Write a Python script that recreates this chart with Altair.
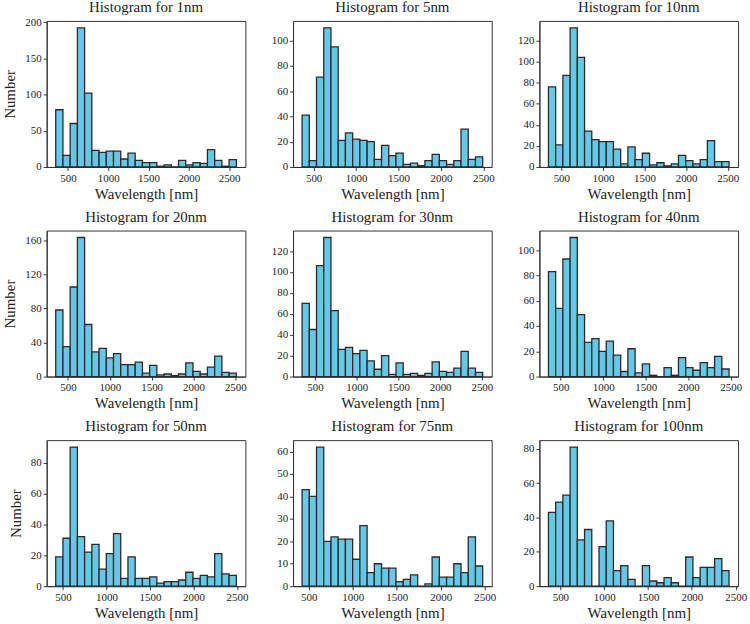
import altair as alt
import numpy as np
import pandas as pd

# Particle-size labels, one histogram per size
sizes = ["1nm", "5nm", "10nm", "20nm", "30nm", "40nm", "50nm", "75nm", "100nm"]

# Wavelength range covered by the 25 bins of each histogram [nm]
range_lo = [348, 364, 345, 354, 345, 356, 416, 425, 364]
range_hi = [2590, 2492, 2516, 2512, 2510, 2480, 2492, 2477, 2424]

# Bin counts (25 bins each)
counts_1nm = [79, 16, 60, 192, 102, 23, 20, 22, 22, 11, 19, 9, 6, 6, 1, 3, 0, 9, 3, 6, 5, 24, 9, 1, 10]
counts_5nm = [41, 5, 71, 110, 95, 21, 27, 22, 21, 20, 6, 17, 9, 11, 2, 3, 1, 5, 10, 5, 2, 5, 30, 6, 8]
counts_10nm = [76, 21, 87, 132, 104, 34, 26, 24, 24, 17, 3, 19, 7, 13, 2, 4, 1, 3, 11, 6, 3, 7, 25, 5, 5]
counts_20nm = [78, 35, 105, 163, 61, 29, 33, 22, 27, 14, 14, 17, 4, 13, 2, 3, 1, 3, 16, 6, 3, 11, 24, 5, 4]
counts_30nm = [70, 45, 106, 133, 63, 26, 28, 22, 25, 15, 7, 20, 2, 13, 2, 3, 1, 3, 14, 5, 4, 8, 24, 8, 4]
counts_40nm = [83, 54, 93, 110, 49, 27, 30, 20, 28, 17, 4, 22, 3, 10, 1, 0, 7, 1, 15, 7, 5, 11, 7, 16, 6]
counts_50nm = [19, 31, 90, 32, 22, 27, 11, 21, 34, 5, 19, 5, 5, 6, 2, 3, 3, 4, 9, 5, 7, 6, 21, 8, 7]
counts_75nm = [43, 40, 62, 20, 22, 21, 21, 12, 27, 6, 10, 8, 8, 2, 3, 5, 0, 1, 13, 4, 4, 10, 6, 22, 9]
counts_100nm = [43, 49, 53, 81, 27, 33, 0, 23, 38, 9, 12, 4, 0, 12, 3, 2, 5, 2, 0, 17, 5, 11, 11, 16, 9]

# Axis tick labels
x_ticks = [500, 1000, 1500, 2000, 2500]
y_ticks_1nm = [0, 50, 100, 150, 200]
y_ticks_5nm = [0, 20, 40, 60, 80, 100]
y_ticks_10nm = [0, 20, 40, 60, 80, 100, 120]
y_ticks_20nm = [0, 40, 80, 120, 160]
y_ticks_30nm = [0, 20, 40, 60, 80, 100, 120]
y_ticks_40nm = [0, 20, 40, 60, 80, 100]
y_ticks_50nm = [0, 20, 40, 60, 80]
y_ticks_75nm = [0, 10, 20, 30, 40, 50, 60]
y_ticks_100nm = [0, 20, 40, 60, 80]

all_counts = [counts_1nm, counts_5nm, counts_10nm, counts_20nm, counts_30nm,
              counts_40nm, counts_50nm, counts_75nm, counts_100nm]
all_yticks = [y_ticks_1nm, y_ticks_5nm, y_ticks_10nm, y_ticks_20nm, y_ticks_30nm,
              y_ticks_40nm, y_ticks_50nm, y_ticks_75nm, y_ticks_100nm]

FONT = "'Liberation Serif', 'DejaVu Serif', serif"
BAR_FILL = "#66c8e6"
BAR_EDGE = "#2a2a2a"
FRAME = "#333333"


def histogram(size, counts, lo, hi, yticks, first_column, title_dy):
    edges = np.linspace(lo, hi, len(counts) + 1)
    df = pd.DataFrame({"start": edges[:-1], "end": edges[1:], "count": counts})
    xpad = 0.05 * (hi - lo)
    ymax = 1.05 * max(counts)

    y_axis_kw = dict(values=yticks, format="d")
    y_axis_kw["title"] = "Number" if first_column else ""

    return (
        alt.Chart(df)
        .mark_bar(fill=BAR_FILL, stroke=BAR_EDGE, strokeWidth=1.3)
        .encode(
            x=alt.X(
                "start:Q",
                scale=alt.Scale(domain=[lo - xpad, hi + xpad], nice=False, zero=False),
                axis=alt.Axis(values=x_ticks, format="d", title="Wavelength [nm]"),
            ),
            x2="end:Q",
            y=alt.Y(
                "count:Q",
                scale=alt.Scale(domain=[0, ymax], nice=False),
                axis=alt.Axis(**y_axis_kw),
            ),
            y2=alt.datum(0),
        )
        .properties(
            width=200,
            height=147,
            title=alt.TitleParams(
                f"Histogram for {size}", anchor="middle", frame="group", dy=title_dy
            ),
        )
    )


# The top tick label of the first panel sits right at the frame edge and lifts
# that panel's title; nudge it back down to line up with its row.
title_nudge = [5, 0, 0, 0, 0, 0, 0, 0, 0]

panels = [
    histogram(sizes[i], all_counts[i], range_lo[i], range_hi[i], all_yticks[i],
              i % 3 == 0, title_nudge[i])
    for i in range(9)
]

chart = (
    alt.concat(
        *panels,
        columns=3,
        spacing=alt.RowColnumber(row=64, column=48),
        bounds="flush",
    )
    .properties(padding={"left": 2, "top": -3, "right": 2, "bottom": 0})
    .configure_view(stroke=FRAME, strokeWidth=1)
    .configure_axis(
        grid=False,
        domainColor=FRAME,
        domainWidth=1,
        tickColor=FRAME,
        tickSize=3.5,
        tickWidth=1,
        labelFont=FONT,
        labelFontSize=11,
        labelColor="#222222",
        labelPadding=2,
        titleFont=FONT,
        titleFontSize=15,
        titleFontWeight="normal",
        titleColor="#222222",
    )
    .configure_axisX(titlePadding=3)
    .configure_axisY(titlePadding=7)
    .configure_title(font=FONT, fontSize=15, fontWeight="normal", color="#222222", offset=6)
)

chart.save("out.html", embed_options={"renderer": "svg", "actions": False})
